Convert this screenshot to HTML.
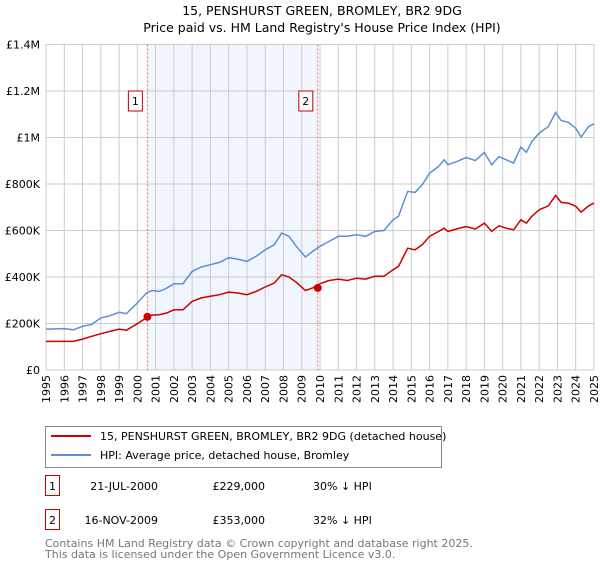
<!DOCTYPE html>
<html><head><meta charset="utf-8"><style>
body{margin:0;background:#fff;font-family:"Liberation Sans","DejaVu Sans",sans-serif;}
svg text{font-family:"DejaVu Sans","Liberation Sans",sans-serif;}
</style></head><body>
<svg width="600" height="560" viewBox="0 0 600 560" xmlns="http://www.w3.org/2000/svg">
<text x="322" y="15" text-anchor="middle" font-size="12.5" fill="#000">15, PENSHURST GREEN, BROMLEY, BR2 9DG</text>
<text x="322" y="32" text-anchor="middle" font-size="12.5" fill="#000">Price paid vs. HM Land Registry's House Price Index (HPI)</text>
<g id="plot"></g>
<g>
<rect x="45.5" y="426.5" width="396" height="41" fill="#fff" stroke="#888"/>
<line x1="51" y1="436" x2="91" y2="436" stroke="#cc0000" stroke-width="2"/>
<text x="100" y="440" font-size="11">15, PENSHURST GREEN, BROMLEY, BR2 9DG (detached house)</text>
<line x1="51" y1="455" x2="91" y2="455" stroke="#5b8fd6" stroke-width="2"/>
<text x="100" y="459" font-size="11">HPI: Average price, detached house, Bromley</text>
</g>
<g font-size="11">
<rect x="45.5" y="475.5" width="14" height="20" fill="#fff" stroke="#cc0000"/>
<text x="52.5" y="490" text-anchor="middle">1</text>
<text x="158" y="490" text-anchor="end">21-JUL-2000</text>
<text x="265" y="490" text-anchor="end">£229,000</text>
<text x="313" y="490">30% ↓ HPI</text>
<rect x="45.5" y="509.5" width="14" height="20" fill="#fff" stroke="#cc0000"/>
<text x="52.5" y="524" text-anchor="middle">2</text>
<text x="158" y="524" text-anchor="end">16-NOV-2009</text>
<text x="265" y="524" text-anchor="end">£353,000</text>
<text x="313" y="524">32% ↓ HPI</text>
</g>
<text x="45" y="547" font-size="11" fill="#777">Contains HM Land Registry data © Crown copyright and database right 2025.</text>
<text x="45" y="558" font-size="11" fill="#777">This data is licensed under the Open Government Licence v3.0.</text>
</svg>
<script>
const hpiYears=[1995,1996,1996.5,1997,1997.5,1998,1998.5,1999,1999.4,2000,2000.5,2000.8,2001.2,2001.6,2002,2002.5,2003,2003.5,2004,2004.5,2005,2005.5,2006,2006.5,2007,2007.5,2007.9,2008.3,2008.7,2009.2,2009.6,2010,2010.5,2011,2011.5,2012,2012.5,2013,2013.5,2014,2014.3,2014.8,2015.2,2015.6,2016,2016.5,2016.8,2017,2017.5,2018,2018.5,2019,2019.4,2019.8,2020.2,2020.6,2021,2021.3,2021.6,2022,2022.5,2022.9,2023.2,2023.6,2024,2024.3,2024.7,2025];
const hpiValues=[176,178,173,188,196,224,233,248,242,288,331,342,338,352,371,371,424,443,453,463,483,477,467,489,517,539,589,575,532,486,510,532,553,575,575,582,575,596,600,646,661,768,764,797,847,876,904,883,897,914,901,936,883,918,904,890,959,936,983,1019,1047,1108,1073,1065,1040,1002,1047,1059];
const priceValues=[123,123,123,133,145,156,166,176,171,199,225,236,238,245,259,259,295,310,317,324,335,331,324,338,357,374,410,400,377,342,353,371,385,391,385,395,391,403,403,431,446,524,517,539,575,596,610,596,607,617,606,632,596,620,610,603,646,632,661,689,706,751,721,718,704,679,706,718];
const saleYears=[2000.55,2009.88];
const saleValues=[229,353];
const saleLabels=["1","2"];
const yTicks=[0,200,400,600,800,1000,1200,1400];
const yTickLabels=["£0","£200K","£400K","£600K","£800K","£1M","£1.2M","£1.4M"];
const xTicks=[];for(let y=1995;y<=2025;y++)xTicks.push(y);

const X0=46,X1=594,Y0=370,Y1=44.5;
const xs=y=>X0+(y-1995)/30*(X1-X0);
const ys=v=>Y0-v/1400*(Y0-Y1);
const NS="http://www.w3.org/2000/svg";
const g=document.getElementById('plot');
function mk(t,a){const e=document.createElementNS(NS,t);for(const k in a)e.setAttribute(k,a[k]);g.appendChild(e);return e;}
let e;
e=mk('rect',{x:xs(saleYears[0]),y:Y1,width:xs(saleYears[1])-xs(saleYears[0]),height:Y0-Y1,fill:'#eef3fc',opacity:0.8});


xTicks.forEach(y=>{
 e=mk('line',{x1:xs(y),x2:xs(y),y1:Y1,y2:Y0,stroke:'#ccc','stroke-width':1});
 
 
 e=mk('text',{x:0,y:0,'font-size':11,'text-anchor':'end',transform:`translate(${xs(y)+4},${Y0+5}) rotate(-90)`});
 e.textContent=y;
 
 
});
yTicks.forEach((v,i)=>{
 e=mk('line',{x1:X0,x2:X1,y1:ys(v),y2:ys(v),stroke:'#ccc','stroke-width':1});
 
 
 e=mk('text',{x:X0-6,y:ys(v)+4,'font-size':11,'text-anchor':'end'});
 e.textContent=yTickLabels[i];
 
 
});
saleYears.forEach((y,i)=>{
 e=mk('line',{x1:xs(y),x2:xs(y),y1:Y1,y2:Y0,stroke:'#e66','stroke-width':1,'stroke-dasharray':'2,2'});
 
 
 e=mk('rect',{x:xs(y)-19,y:91,width:14,height:20,fill:'#fff',stroke:'#cc0000'});
 
 
 e=mk('text',{x:xs(y)-12,y:105,'font-size':11,'text-anchor':'middle'});
 e.textContent=saleLabels[i];
 
 
});
const pts=(ys_)=>hpiYears.map((y,i)=>xs(y).toFixed(1)+','+ys(ys_[i]).toFixed(1)).join(' ');
e=mk('polyline',{points:pts(hpiValues),fill:'none',stroke:'#5b8fd6','stroke-width':1.5});


e=mk('polyline',{points:pts(priceValues),fill:'none',stroke:'#cc0000','stroke-width':1.5});


saleYears.forEach((y,i)=>{
 e=mk('circle',{cx:xs(y),cy:ys(saleValues[i]),r:4,fill:'#cc0000'});
 
 
});
</script>
</body></html>
